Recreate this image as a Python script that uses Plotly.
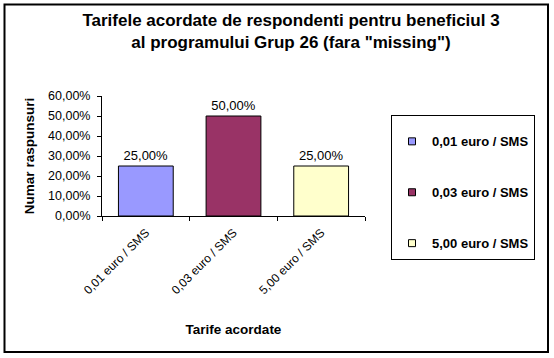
import plotly.graph_objects as go

categories = ["0,01 euro / SMS", "0,03 euro / SMS", "5,00 euro / SMS"]
values = [0.25, 0.50, 0.25]
colors = ["#9999FF", "#993366", "#FFFFCC"]
y_ticks = [0, 0.1, 0.2, 0.3, 0.4, 0.5, 0.6]

W, H = 554, 358
L, R, T, B = 102, 365, 96, 216
pw, ph = R - L, B - T

def px_x(p):
    return (p - L) / pw

def px_y(p):
    return (B - p) / ph

FONT = "Liberation Sans, Arial"

fig = go.Figure()
for i, (c, v, col) in enumerate(zip(categories, values, colors)):
    fig.add_trace(go.Bar(
        x=[c], y=[v], name=c, marker=dict(color=col, line=dict(color="black", width=1)),
        text=["{:.2f}%".format(v * 100).replace(".", ",")], textposition="outside",
        textfont=dict(family=FONT, size=13, color="black"),
        cliponaxis=False, showlegend=False,
    ))
    fig.add_trace(go.Scatter(
        x=[c], y=[None], mode="markers", name=c, legendgroup="g%d" % i,
        marker=dict(symbol="square", size=7, color=col, line=dict(color="black", width=1)),
        showlegend=True,
    ))

fig.update_layout(
    width=W, height=H,
    margin=dict(l=L, r=W - R, t=T, b=H - B, pad=0, autoexpand=False),
    paper_bgcolor="white", plot_bgcolor="white",
    separators=",.",
    barmode="overlay", bargap=0.375,
    font=dict(family=FONT, size=12, color="black"),
    title=dict(
        text="Tarifele acordate de respondenti pentru beneficiul 3<br>al programului Grup 26 (fara \"missing\")",
        x=291 / W, xref="container", xanchor="center", y=1 - 26 / H, yref="container", yanchor="top",
        font=dict(family=FONT, size=17, color="black", weight="bold"),
    ),
    xaxis=dict(
        type="category", showline=True, linecolor="black", linewidth=1,
        ticks="outside", ticklen=4, tickcolor="black", tickson="boundaries",
        tickangle=-45, showgrid=False, zeroline=False, automargin=False,
        tickfont=dict(size=12), ticklabelstandoff=4,
        title=dict(text="Tarife acordate", font=dict(size=13.5, weight="bold"), standoff=28),
    ),
    yaxis=dict(
        range=[0, 0.6], tickvals=y_ticks, tickformat=".2%",
        showline=True, linecolor="black", linewidth=1, automargin=False,
        ticks="outside", ticklen=4, tickcolor="black", showgrid=False, zeroline=False,
        tickfont=dict(size=12.5), ticklabelstandoff=4,
        title=dict(text="Numar raspunsuri", font=dict(size=13.5, weight="bold"), standoff=10),
    ),
    legend=dict(
        x=px_x(391), y=px_y(115), xanchor="left", yanchor="top",
        bordercolor="black", borderwidth=1, bgcolor="white",
        font=dict(size=13, weight="bold"), tracegroupgap=31,
        traceorder="grouped", itemwidth=30, maxheight=300,
        title=dict(text="&nbsp;", font=dict(size=8)),
    ),
    shapes=[dict(
        type="rect", xref="paper", yref="paper",
        x0=px_x(4.5), x1=px_x(548), y0=px_y(352), y1=px_y(4.5),
        line=dict(color="black", width=2), fillcolor="rgba(0,0,0,0)", layer="below",
    )],
)

fig.write_html("out.html", post_script="document.body.style.margin='0';",
               config={"displayModeBar": False})
